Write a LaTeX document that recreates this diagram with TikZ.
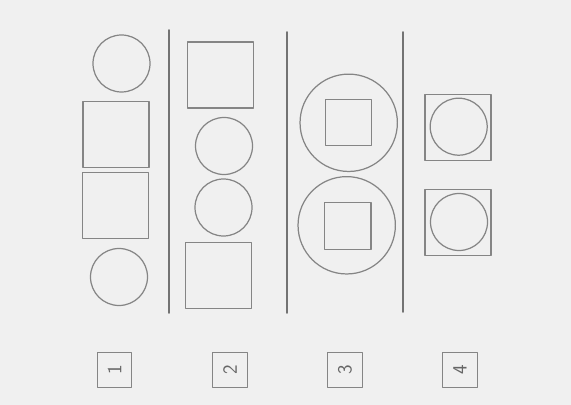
\documentclass[tikz,border=0pt]{standalone}
\usepackage{tikz}
\usetikzlibrary{positioning}

\begin{document}
\begin{tikzpicture}[
      x=0.03cm, y=-0.03cm,
      line cap=round, line join=round,
      pencil/.style={draw=black!48, line width=1.05pt},
      ring/.style={pencil, circle, inner sep=0pt, minimum size=1.71cm},
      bigring/.style={pencil, circle, inner sep=0pt, minimum size=2.92cm},
      box/.style={pencil, rectangle, inner sep=0pt, minimum size=1.98cm},
      smallbox/.style={pencil, rectangle, inner sep=0pt, minimum size=1.39cm},
      tag/.style={pencil, rectangle, inner sep=0pt, minimum size=1.03cm,
        text=black!60, font=\sffamily\LARGE, rotate=90}
    ]

    % ------------------ Sheet ------------------
    \fill[black!6] (0,0) rectangle (571,405);
    \useasboundingbox (0,0) rectangle (571,405);

    % ------------------ Dividers ------------------
    \foreach \x/\ya/\yb in {169/30/313, 287/32/313, 403/32/312} {
      \draw[draw=black!55, line width=1.3pt] (\x,\ya) -- (\x,\yb);
    }

    % ------------------ Column 1 ------------------
    \node[ring] (oneTop) at (121.5,63.5) {};
    \node[box] (oneSqA) at (116,134.5) {};
    \node[box] (oneSqB) at (115.3,205.8) {};
    \node[ring] (oneBot) at (119,277) {};

    % ------------------ Column 2 ------------------
    \node[box] (twoTop) at (220.8,75) {};
    \node[ring] (twoRgA) at (224,146) {};
    \node[ring] (twoRgB) at (223.5,207.5) {};
    \node[box] (twoBot) at (218.3,275.3) {};

    % ------------------ Column 3 ------------------
    \node[bigring] (threeTop) at (348.7,122.8) {};
    \node[smallbox] (threeTopSq) at (348.7,122.7) {};
    \node[bigring] (threeBot) at (346.7,225.3) {};
    \node[smallbox] (threeBotSq) at (347.8,226) {};

    % ------------------ Column 4 ------------------
    \node[box] (fourTop) at (458,127.3) {};
    \node[ring] (fourTopRg) at (458.7,126.7) {};
    \node[box] (fourBot) at (458,222.2) {};
    \node[ring] (fourBotRg) at (459,222) {};

    % ------------------ Labels ------------------
    \foreach \n/\x in {1/114.5, 2/230, 3/345, 4/460} {
      \node[tag] (tag\n) at (\x,370) {\n};
    }

  \end{tikzpicture}
\end{document}
